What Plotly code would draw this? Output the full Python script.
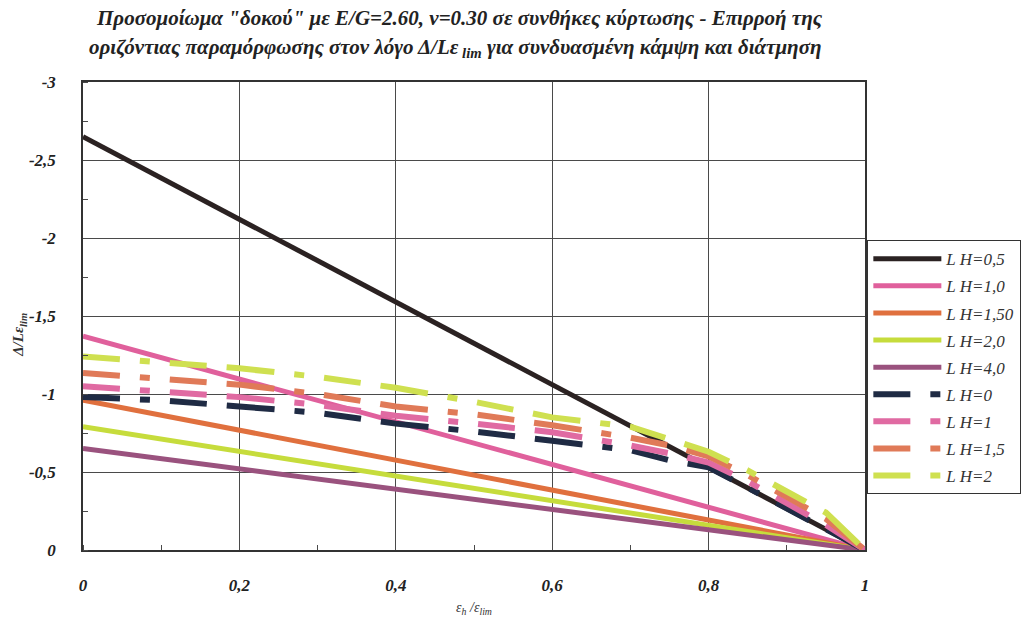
import plotly.graph_objects as go

# ---- data -------------------------------------------------------------
# horizontal strain ratio eps_h / eps_lim
eps_solid = [0.0, 1.0]
# combined bending + shear, solid curves (value at eps_h = 0 and at eps_h = eps_lim)
lh_05 = [-2.65, 0.0]
lh_10 = [-1.37, 0.0]
lh_150 = [-0.96, 0.0]
lh_20 = [-0.79, 0.0]
lh_40 = [-0.65, 0.0]

# dashed curves, sampled along eps_h / eps_lim
eps_dash = [0.0, 0.1, 0.2, 0.3, 0.4, 0.5, 0.6, 0.7, 0.75, 0.8, 0.85, 0.9, 0.95, 1.0]
lh_0_d = [-0.98, -0.96, -0.92, -0.88, -0.81, -0.76, -0.70, -0.64, -0.575, -0.53, -0.40, -0.265, -0.13, 0.0]
lh_1_d = [-1.05, -1.015, -0.98, -0.93, -0.86, -0.81, -0.755, -0.67, -0.62, -0.56, -0.44, -0.30, -0.16, 0.0]
lh_15_d = [-1.135, -1.10, -1.06, -1.00, -0.92, -0.87, -0.80, -0.72, -0.67, -0.60, -0.48, -0.34, -0.20, 0.0]
lh_2_d = [-1.24, -1.20, -1.165, -1.11, -1.04, -0.95, -0.85, -0.79, -0.71, -0.63, -0.51, -0.38, -0.24, 0.0]

solid_names = ["L H=0,5", "L H=1,0", "L H=1,50", "L H=2,0", "L H=4,0"]
dash_names = ["L H=0", "L H=1", "L H=1,5", "L H=2"]

x_ticks = [0, 0.2, 0.4, 0.6, 0.8, 1.0]
x_ticktext = ["0", "0,2", "0,4", "0,6", "0,8", "1"]
y_ticks = [-3, -2.5, -2, -1.5, -1, -0.5, 0]
y_ticktext = ["-3", "-2,5", "-2", "-1,5", "-1", "-0,5", "0"]

# ---- style ------------------------------------------------------------
SERIF = "Liberation Serif"
solid_colors = ["#2b2222", "#e0609c", "#e0703e", "#c6dc3c", "#9a527e"]
dash_colors = ["#1f2b44", "#e06aa2", "#e07a58", "#cfe050"]
DASH = "37px,20px," + ",".join(["10px,20px,37px,20px,48px,20px"] * 6)

fig = go.Figure()

for name, ys, col in zip(solid_names, [lh_05, lh_10, lh_150, lh_20, lh_40], solid_colors):
    fig.add_trace(go.Scatter(
        x=eps_solid, y=ys, mode="lines", name=name, legendgroup=name,
        line=dict(color=col, width=5),
    ))

for name, ys, col in zip(dash_names, [lh_0_d, lh_1_d, lh_15_d, lh_2_d], dash_colors):
    fig.add_trace(go.Scatter(
        x=eps_dash, y=ys, mode="lines", name=name, legendgroup=name,
        line=dict(color=col, width=6, dash=DASH),
    ))

tick_font = dict(family=SERIF, size=17, style="italic", weight="bold", color="#222")
title_font = dict(family=SERIF, size=21, style="italic", weight="bold", color="#222")
grid_col = "#4a4a4a"

fig.update_layout(
    width=1033, height=618,
    margin=dict(l=83, r=168, t=82, b=68),
    paper_bgcolor="white", plot_bgcolor="white",
    showlegend=True,
    legend=dict(
        x=1.003, y=0.662, xanchor="left", yanchor="top",
        bordercolor="#333", borderwidth=1, bgcolor="white",
        font=dict(family=SERIF, size=17, style="italic", color="#333"),
        tracegroupgap=2, itemwidth=68,
    ),
    xaxis=dict(
        range=[0, 1], tickvals=x_ticks, ticktext=x_ticktext,
        tickfont=tick_font, ticks="", ticklabelstandoff=19,
        showgrid=True, gridcolor=grid_col, gridwidth=1,
        showline=True, linecolor="#333", linewidth=1.5, mirror=True,
        zeroline=False,
        minor=dict(dtick=0.1, tick0=0, ticks="inside", ticklen=5, tickcolor=grid_col, showgrid=False),
        title=dict(text="ε<sub>h</sub> /ε<sub>lim</sub>",
                   font=dict(family=SERIF, size=14, style="italic", color="#333"), standoff=8),
        automargin=False,
    ),
    yaxis=dict(
        range=[0, -3], tickvals=y_ticks, ticktext=y_ticktext,
        tickfont=tick_font, ticks="", ticklabelstandoff=22,
        showgrid=True, gridcolor=grid_col, gridwidth=1,
        showline=True, linecolor="#333", linewidth=1.5, mirror=True,
        zeroline=False,
        minor=dict(dtick=0.25, tick0=0, ticks="inside", ticklen=5, tickcolor=grid_col, showgrid=False),
        automargin=False,
    ),
    annotations=[
        dict(text="Προσομοίωμα \"δοκού\" με E/G=2.60, ν=0.30 σε συνθήκες κύρτωσης - Επιρροή της",
             xref="paper", yref="paper", x=0.482, y=1.136, xanchor="center", yanchor="middle",
             showarrow=False, font=title_font),
        dict(text="οριζόντιας παραμόρφωσης στον λόγο Δ/Lε<sub> lim</sub> για συνδυασμένη κάμψη και διάτμηση",
             xref="paper", yref="paper", x=0.476, y=1.072, xanchor="center", yanchor="middle",
             showarrow=False, font=title_font),
        dict(text="Δ/Lε<sub>lim</sub>", textangle=-90,
             xref="paper", yref="paper", x=-0.081, y=0.459, xanchor="center", yanchor="middle",
             showarrow=False, font=dict(family=SERIF, size=15, style="italic", weight="bold", color="#333")),
    ],
)

fig.write_html("out.html")
